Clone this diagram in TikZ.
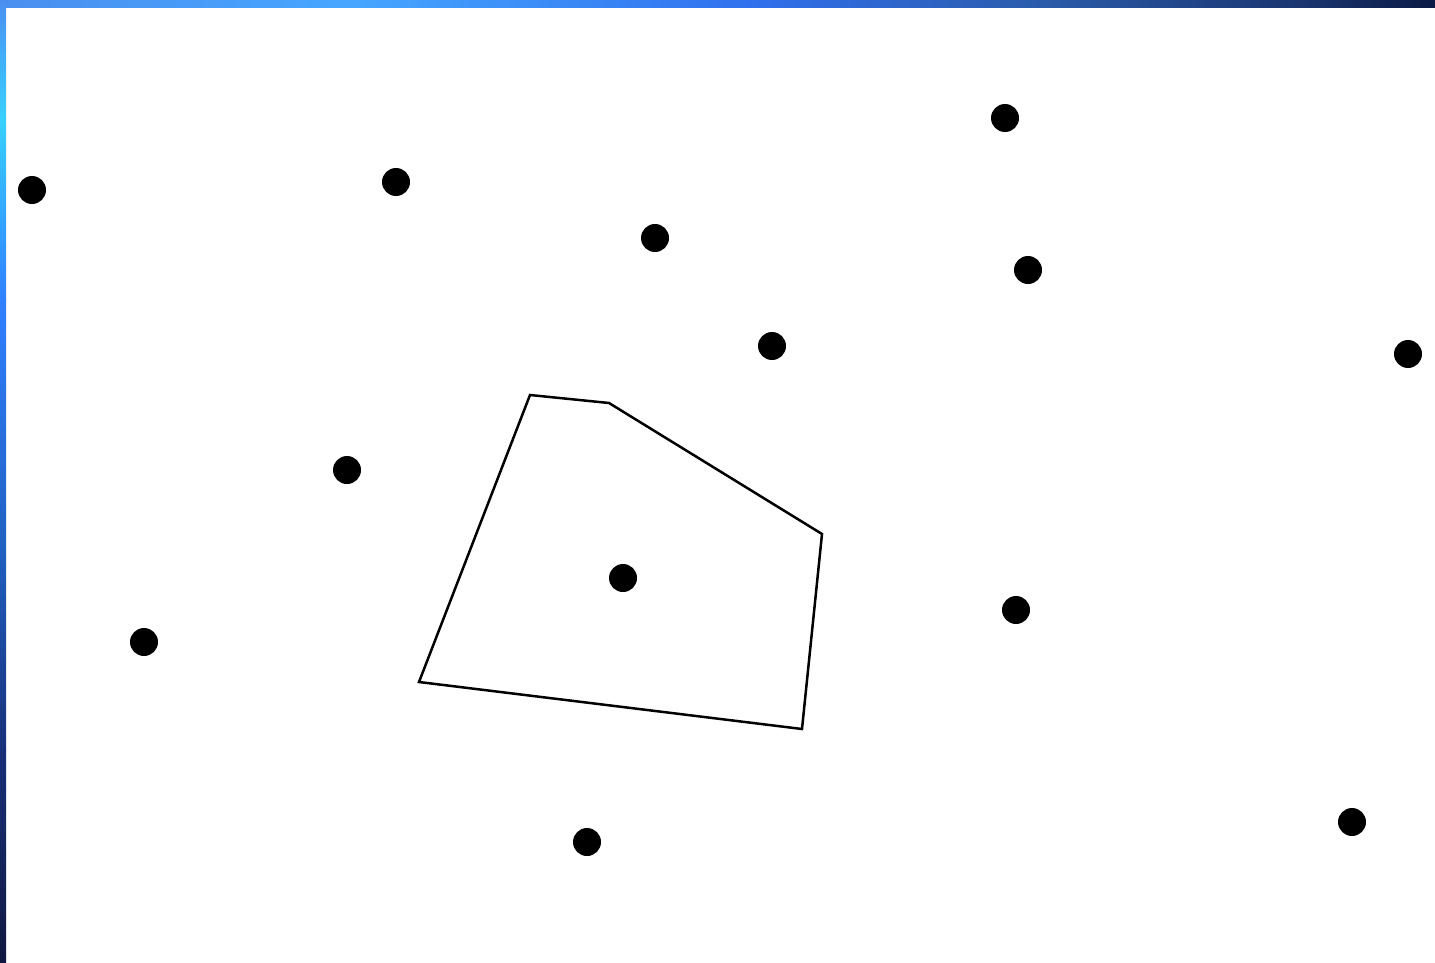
\documentclass[tikz,border=0pt]{standalone}
\usepackage{xcolor}
\usetikzlibrary{positioning}

\definecolor{edgeA}{HTML}{4A8FF0}
\definecolor{edgeB}{HTML}{46A6FF}
\definecolor{edgeC}{HTML}{3070EE}
\definecolor{edgeD}{HTML}{2A5AA8}
\definecolor{edgeE}{HTML}{1A3570}
\definecolor{edgeF}{HTML}{0A1A45}
\definecolor{sideB}{HTML}{38D0FF}
\definecolor{sideC}{HTML}{3080FF}
\definecolor{sideD}{HTML}{2060C0}
\definecolor{sideE}{HTML}{18307A}
\definecolor{sideF}{HTML}{101840}

\begin{document}
\begin{tikzpicture}[
        x=1pt, y=-1pt,
        site/.style={circle, fill=black, inner sep=0pt, minimum size=28pt},
        cell/.style={draw=black, line width=2.5pt, line join=miter},
    ]
    \useasboundingbox (0,0) rectangle (1435,963);
    \fill[white] (0,0) rectangle (1435,963);

    % Top border strip
    \shade[left color=edgeA, right color=edgeB] (0,0) rectangle (350,8);
    \shade[left color=edgeB, right color=edgeC] (350,0) rectangle (750,8);
    \shade[left color=edgeC, right color=edgeD] (750,0) rectangle (1050,8);
    \shade[left color=edgeD, right color=edgeE] (1050,0) rectangle (1300,8);
    \shade[left color=edgeE, right color=edgeF] (1300,0) rectangle (1435,8);

    % Left border strip
    \shade[top color=edgeA, bottom color=sideB] (0,0) rectangle (6,120);
    \shade[top color=sideB, bottom color=sideC] (0,120) rectangle (6,300);
    \shade[top color=sideC, bottom color=sideD] (0,300) rectangle (6,550);
    \shade[top color=sideD, bottom color=sideE] (0,550) rectangle (6,750);
    \shade[top color=sideE, bottom color=sideF] (0,750) rectangle (6,963);

    % Sites
    \node[site] (s1) at (32,190) {};
    \node[site] (s2) at (396,182) {};
    \node[site] (s3) at (1005,118) {};
    \node[site] (s4) at (655,238) {};
    \node[site] (s5) at (1028,270) {};
    \node[site] (s6) at (772,346) {};
    \node[site] (s7) at (1408,354) {};
    \node[site] (s8) at (347,470) {};
    \node[site] (s9) at (623,578) {};
    \node[site] (s10) at (1016,610) {};
    \node[site] (s11) at (144,642) {};
    \node[site] (s12) at (587,842) {};
    \node[site] (s13) at (1352,822) {};

    % Voronoi cell of the centre site
    \coordinate (v1) at (530,395);
    \coordinate (v2) at (609,403);
    \coordinate (v3) at (822,534);
    \coordinate (v4) at (802,729);
    \coordinate (v5) at (419,682);
    \draw[cell] (v1) -- (v2) -- (v3) -- (v4) -- (v5) -- cycle;
\end{tikzpicture}
\end{document}
